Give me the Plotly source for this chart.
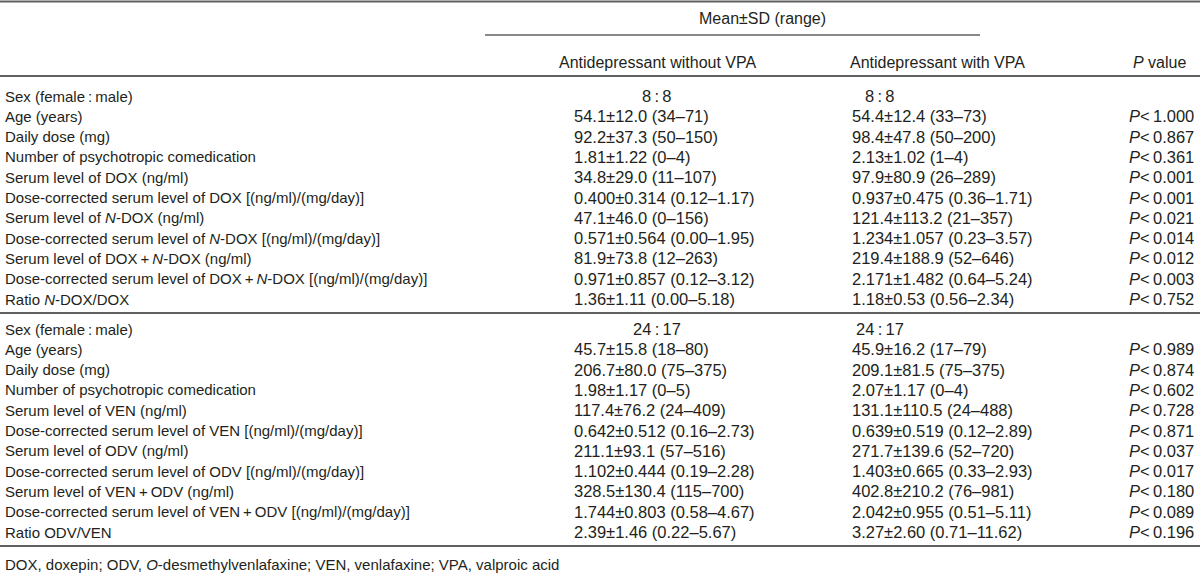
import plotly.graph_objects as go

# ---------------- data ----------------
TS = "\u2009"  # thin space
group_header = "Mean±SD (range)"
col_headers = ["Antidepressant without VPA", "Antidepressant with VPA"]
p_header = "<i>P</i> value"

labels_dox = [
    f"Sex (female{TS}:{TS}male)",
    "Age (years)",
    "Daily dose (mg)",
    "Number of psychotropic comedication",
    "Serum level of DOX (ng/ml)",
    "Dose-corrected serum level of DOX [(ng/ml)/(mg/day)]",
    "Serum level of <i>N</i>-DOX (ng/ml)",
    "Dose-corrected serum level of <i>N</i>-DOX [(ng/ml)/(mg/day)]",
    f"Serum level of DOX{TS}+{TS}<i>N</i>-DOX (ng/ml)",
    f"Dose-corrected serum level of DOX{TS}+{TS}<i>N</i>-DOX [(ng/ml)/(mg/day)]",
    "Ratio <i>N</i>-DOX/DOX",
]
without_vpa_dox = [
    f"8{TS}:{TS}8", "54.1±12.0 (34–71)", "92.2±37.3 (50–150)", "1.81±1.22 (0–4)",
    "34.8±29.0 (11–107)", "0.400±0.314 (0.12–1.17)", "47.1±46.0 (0–156)",
    "0.571±0.564 (0.00–1.95)", "81.9±73.8 (12–263)", "0.971±0.857 (0.12–3.12)",
    "1.36±1.11 (0.00–5.18)",
]
with_vpa_dox = [
    f"8{TS}:{TS}8", "54.4±12.4 (33–73)", "98.4±47.8 (50–200)", "2.13±1.02 (1–4)",
    "97.9±80.9 (26–289)", "0.937±0.475 (0.36–1.71)", "121.4±113.2 (21–357)",
    "1.234±1.057 (0.23–3.57)", "219.4±188.9 (52–646)", "2.171±1.482 (0.64–5.24)",
    "1.18±0.53 (0.56–2.34)",
]
p_dox = ["", "1.000", "0.867", "0.361", "0.001", "0.001", "0.021", "0.014",
         "0.012", "0.003", "0.752"]

labels_ven = [
    f"Sex (female{TS}:{TS}male)",
    "Age (years)",
    "Daily dose (mg)",
    "Number of psychotropic comedication",
    "Serum level of VEN (ng/ml)",
    "Dose-corrected serum level of VEN [(ng/ml)/(mg/day)]",
    "Serum level of ODV (ng/ml)",
    "Dose-corrected serum level of ODV [(ng/ml)/(mg/day)]",
    f"Serum level of VEN{TS}+{TS}ODV (ng/ml)",
    f"Dose-corrected serum level of VEN{TS}+{TS}ODV [(ng/ml)/(mg/day)]",
    "Ratio ODV/VEN",
]
without_vpa_ven = [
    f"24{TS}:{TS}17", "45.7±15.8 (18–80)", "206.7±80.0 (75–375)", "1.98±1.17 (0–5)",
    "117.4±76.2 (24–409)", "0.642±0.512 (0.16–2.73)", "211.1±93.1 (57–516)",
    "1.102±0.444 (0.19–2.28)", "328.5±130.4 (115–700)", "1.744±0.803 (0.58–4.67)",
    "2.39±1.46 (0.22–5.67)",
]
with_vpa_ven = [
    f"24{TS}:{TS}17", "45.9±16.2 (17–79)", "209.1±81.5 (75–375)", "2.07±1.17 (0–4)",
    "131.1±110.5 (24–488)", "0.639±0.519 (0.12–2.89)", "271.7±139.6 (52–720)",
    "1.403±0.665 (0.33–2.93)", "402.8±210.2 (76–981)", "2.042±0.955 (0.51–5.11)",
    "3.27±2.60 (0.71–11.62)",
]
p_ven = ["", "0.989", "0.874", "0.602", "0.728", "0.871", "0.037", "0.017",
         "0.180", "0.089", "0.196"]

footnote = ("DOX, doxepin; ODV, <i>O</i>-desmethylvenlafaxine; "
            "VEN, venlafaxine; VPA, valproic acid")

# ---------------- layout constants ----------------
W, H = 1200, 580
FONT = "Liberation Sans, Arial, sans-serif"
FS_LABEL = 15
FS_VALUE = 16.5
FS_HEAD = 16
TXT = "#231f20"
RULE = "#606060"

X_LABEL = 3
X_C1 = 572          # left edge of first value column
X_C2 = 850          # left edge of second value column
X_C1_CENTER = 657   # centre for ratio row / header
X_C2_CENTER = 880
X_H2_CENTER = 937
X_P_RIGHT = 1196

Y_GROUP = 18
Y_SHORT_RULE = 35
Y_HEADER = 62
Y_HEAD_RULE = 76
Y_BLOCK1 = 96
ROW_H = 20.3
Y_MID_RULE = 313
Y_BLOCK2 = 329
Y_BOTTOM_RULE = 546
Y_FOOT = 564

annotations = []


def add(text, x, y, anchor="left", size=FS_LABEL):
    annotations.append(dict(
        text=text, x=x, y=y, xref="x", yref="y", xanchor=anchor,
        yanchor="middle", showarrow=False,
        font=dict(family=FONT, size=size, color=TXT)))


add(group_header, 762, Y_GROUP, "center", FS_HEAD)
add(col_headers[0], X_C1_CENTER, Y_HEADER, "center", FS_HEAD)
add(col_headers[1], X_H2_CENTER, Y_HEADER, "center", FS_HEAD)
add(p_header, 1188, Y_HEADER, "right", FS_HEAD)

for y0, labels, c1, c2, pv in [
    (Y_BLOCK1, labels_dox, without_vpa_dox, with_vpa_dox, p_dox),
    (Y_BLOCK2, labels_ven, without_vpa_ven, with_vpa_ven, p_ven),
]:
    for i, lab in enumerate(labels):
        y = y0 + i * ROW_H
        add(lab, X_LABEL, y, "left", FS_LABEL)
        if ":" in c1[i]:
            add(c1[i], X_C1_CENTER, y, "center", FS_VALUE)
            add(c2[i], X_C2_CENTER, y, "center", FS_VALUE)
        else:
            add(c1[i], X_C1, y, "left", FS_VALUE)
            add(c2[i], X_C2, y, "left", FS_VALUE)
        if pv[i]:
            add(f"<i>P</i><{TS}{pv[i]}", X_P_RIGHT, y, "right", FS_VALUE)

add(footnote, X_LABEL, Y_FOOT, "left", FS_LABEL)

shapes = [
    dict(type="line", x0=0, x1=W, y0=1.5, y1=1.5, line=dict(color=RULE, width=2)),
    dict(type="line", x0=485, x1=980, y0=Y_SHORT_RULE, y1=Y_SHORT_RULE,
         line=dict(color=RULE, width=1.5)),
    dict(type="line", x0=0, x1=W, y0=Y_HEAD_RULE, y1=Y_HEAD_RULE,
         line=dict(color=RULE, width=2)),
    dict(type="line", x0=0, x1=W, y0=Y_MID_RULE, y1=Y_MID_RULE,
         line=dict(color=RULE, width=2)),
    dict(type="line", x0=0, x1=W, y0=Y_BOTTOM_RULE, y1=Y_BOTTOM_RULE,
         line=dict(color=RULE, width=2)),
]
for s in shapes:
    s.update(xref="x", yref="y", layer="above")

fig = go.Figure()
fig.update_layout(
    width=W, height=H,
    margin=dict(l=0, r=0, t=0, b=0),
    paper_bgcolor="white", plot_bgcolor="white",
    xaxis=dict(range=[0, W], visible=False, fixedrange=True),
    yaxis=dict(range=[H, 0], visible=False, fixedrange=True),
    annotations=annotations, shapes=shapes, showlegend=False,
)
fig.write_html(
    "out.html",
    config={"displayModeBar": False},
    post_script="document.body.style.margin='0';document.body.style.overflow='hidden';",
)
